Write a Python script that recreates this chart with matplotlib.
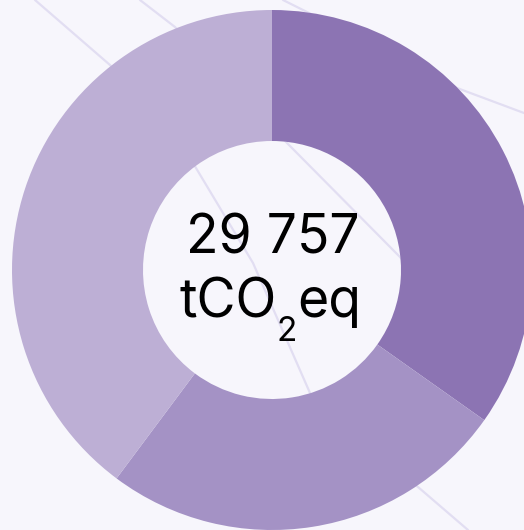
import matplotlib
matplotlib.use("Agg")
import matplotlib.pyplot as plt

# segment values, clockwise from 12 o'clock (tCO2eq)
segment_labels = ["A", "B", "C"]
segment_values = [10355, 7558, 11844]
segment_colors = ["#8C74B3", "#A492C5", "#BDAFD5"]
total_label = "29 757"

BG = "#F7F6FC"
W, H = 524, 530

# faint decorative background curves (pixel coords, y down)
deco_curves = [
    [(35, 0), (110, 65), (193, 163), (253, 263), (310, 393), (360, 445), (418, 487), (468, 530)],
    [(140, 0), (175, 27), (230, 85), (287, 143), (400, 257), (460, 330)],
    [(283, 0), (303, 10), (380, 48), (457, 88), (524, 113)],
]

fig = plt.figure(figsize=(W / 100, H / 100), dpi=100)
fig.patch.set_facecolor(BG)
ax = fig.add_axes([0, 0, 1, 1])
ax.set_facecolor(BG)

for pts in deco_curves:
    xs = [p[0] for p in pts]
    ys = [H - p[1] for p in pts]
    ax.plot(xs, ys, color="#E2DEF2", lw=1.6, zorder=0, solid_capstyle="round")

cx, cy = 272, H - 270
outer, inner = 260, 129
ax.pie(
    segment_values,
    colors=segment_colors,
    startangle=90,
    counterclock=False,
    center=(cx, cy),
    radius=outer,
    wedgeprops=dict(width=outer - inner, linewidth=0),
    frame=True,
)
ax.set_xlim(0, W)
ax.set_ylim(0, H)
ax.set_aspect("equal")
ax.axis("off")

font = "Inter"
big = 38.5
small = 24

ax.text(272.5, H - 253, total_label, ha="center", va="baseline",
        fontsize=big, family=font, color="black", zorder=5)

# second line: tCO2eq with a subscript 2
renderer = fig.canvas.get_renderer()
parts = [("tCO", big, 0), ("2", small, 24), ("eq", big, 0)]
texts = []
widths = []
for s, size, drop in parts:
    t = ax.text(0, 0, s, fontsize=size, family=font, ha="left", va="baseline")
    widths.append(t.get_window_extent(renderer).width)
    texts.append(t)
x = 270 - sum(widths) / 2
for t, w, (s, size, drop) in zip(texts, widths, parts):
    t.set_position((x, H - 317 - drop))
    t.set_zorder(5)
    x += w

fig.savefig("out.png", dpi=100, facecolor=BG)
